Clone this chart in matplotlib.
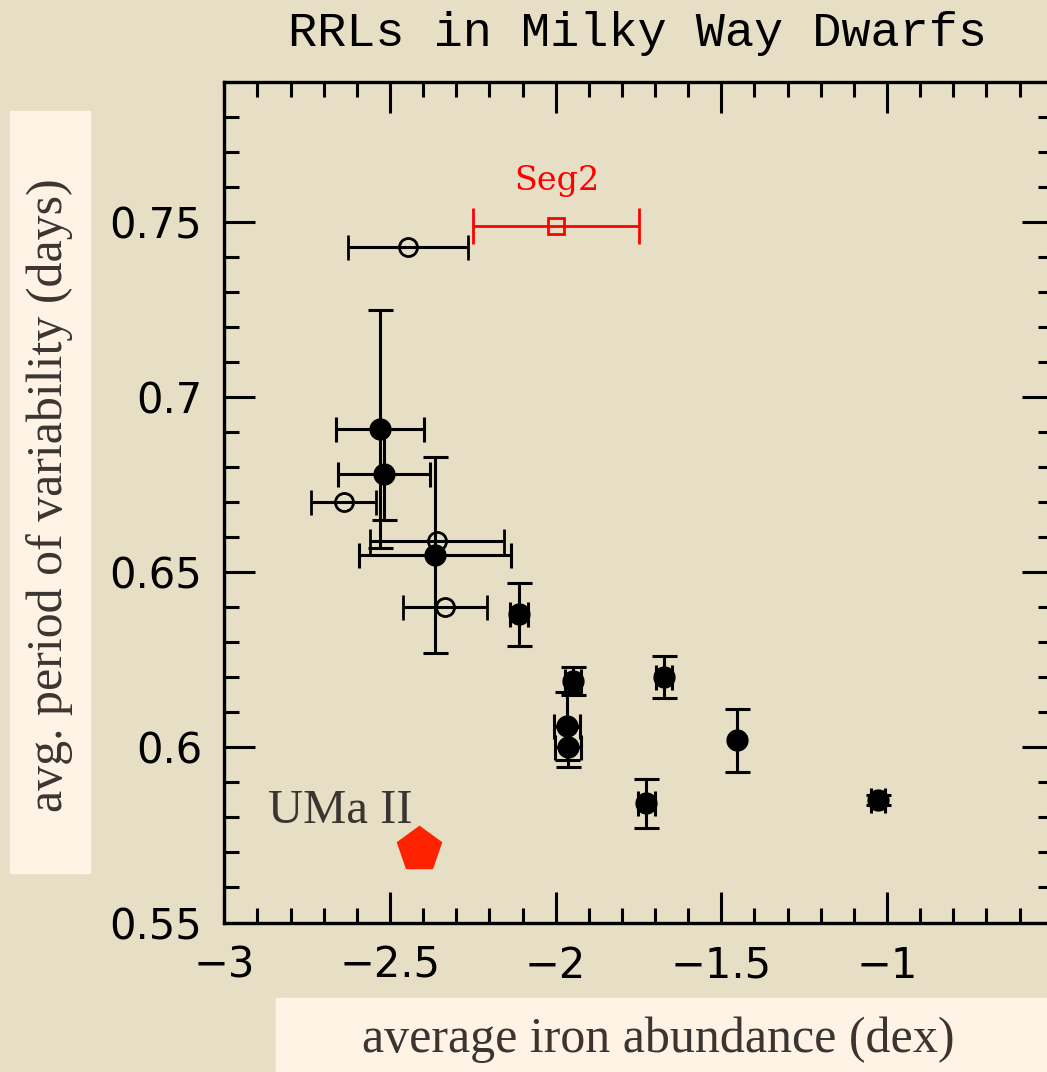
import matplotlib
matplotlib.use('Agg')
import matplotlib.pyplot as plt
from matplotlib.patches import Rectangle
from matplotlib.ticker import MultipleLocator

# dwarfs with full error bars (filled circles)
feh = [-2.53, -2.518, -2.364, -2.111, -1.949, -1.967, -1.964, -1.672, -1.452, -1.726, -1.027]
period = [0.691, 0.678, 0.655, 0.638, 0.619, 0.606, 0.600, 0.620, 0.602, 0.584, 0.585]
feh_err = [0.133, 0.14, 0.229, 0.027, 0.024, 0.039, 0.039, 0.024, 0.0, 0.025, 0.02]
period_err = [0.034, 0.013, 0.028, 0.009, 0.004, 0.0097, 0.0057, 0.006, 0.009, 0.007, 0.0015]

# open circles (metallicity errors only)
feh_open = [-2.446, -2.64, -2.358, -2.334]
period_open = [0.743, 0.670, 0.659, 0.640]
feh_open_err = [0.18, 0.098, 0.203, 0.127]

# Segue 2
seg2_feh, seg2_period, seg2_err = -2.0, 0.749, 0.25
# UMa II
uma_feh, uma_period = -2.413, 0.571

bg = '#e6dfc5'
box = '#fef3e5'
fig = plt.figure(figsize=(10.47, 10.72), dpi=100, facecolor=bg)
ax = fig.add_axes([224.3 / 1047, 1 - 922.5 / 1072, 828.4 / 1047, 840.5 / 1072])
ax.set_facecolor(bg)

ax.errorbar(feh, period, xerr=feh_err, yerr=period_err, fmt='o', color='black',
            ms=15, elinewidth=2.2, capsize=9, capthick=2.2, zorder=3)
ax.errorbar(feh_open, period_open, xerr=feh_open_err, fmt='o', color='black',
            mfc='none', mec='black', mew=2, ms=13, elinewidth=2.2, capsize=9,
            capthick=2.2, zorder=3)
ax.errorbar([seg2_feh], [seg2_period], xerr=[seg2_err], fmt='s', color='red',
            mfc='none', mec='red', mew=2, ms=12, elinewidth=2, capsize=13,
            capthick=2, zorder=3)
ax.plot([uma_feh], [uma_period], marker='p', ms=33, color='#ff2200', ls='none', zorder=4)

ax.text(seg2_feh + 0.005, seg2_period + 0.0127, 'Seg2', color='red', family='DejaVu Serif',
        fontsize=24, ha='center', va='center')
ax.text(-2.867, 0.5783, 'UMa II', color='#3a3530', family='Liberation Serif',
        fontsize=35, ha='left', va='baseline')

ax.set_xlim(-3, -0.5)
ax.set_ylim(0.55, 0.79)
ax.xaxis.set_major_locator(MultipleLocator(0.5))
ax.xaxis.set_minor_locator(MultipleLocator(0.1))
ax.yaxis.set_major_locator(MultipleLocator(0.05))
ax.yaxis.set_minor_locator(MultipleLocator(0.01))
ax.xaxis.set_major_formatter(plt.FuncFormatter(
    lambda v, p: ('%g' % v).replace('-', '\u2212') if v < -0.9 else ''))
ax.yaxis.set_major_formatter(plt.FuncFormatter(lambda v, p: '%g' % round(v, 2)))
ax.tick_params(which='both', direction='in', top=True, right=True, width=2.2,
               labelsize=30, pad=16)
ax.tick_params(which='major', length=22)
ax.tick_params(which='minor', length=11)
for s in ax.spines.values():
    s.set_linewidth(2.4)

fig.text(637 / 1047, 1 - 33 / 1072, 'RRLs in Milky Way Dwarfs', family='Liberation Mono',
         fontsize=35, ha='center', va='center')

# label boxes
fig.patches.append(Rectangle((10 / 1047, 1 - 873 / 1072), 80 / 1047, 762 / 1072,
                             transform=fig.transFigure, color=box, zorder=0))
fig.patches.append(Rectangle((276 / 1047, 0), 771 / 1047, 74 / 1072,
                             transform=fig.transFigure, color=box, zorder=0))
fig.text(50 / 1047, 1 - 495 / 1072, 'avg. period of variability (days)', rotation=90,
         family='Liberation Serif', fontsize=36, color='#3a3530', ha='center', va='center')
fig.text(658 / 1047, 1 - 1040 / 1072, 'average iron abundance (dex)',
         family='Liberation Serif', fontsize=36, color='#3a3530', ha='center', va='center')

fig.savefig('out.png', dpi=100, facecolor=bg)
